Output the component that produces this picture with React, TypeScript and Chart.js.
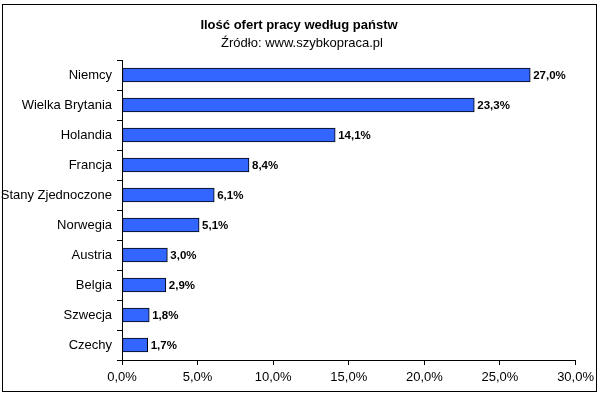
import React, { useEffect, useRef } from "react";
import { Chart, registerables } from "chart.js";

Chart.register(...registerables);

const TITLE = "Ilość ofert pracy według państw";
const SUBTITLE = "Źródło: www.szybkopraca.pl";
const countries = [
  "Niemcy",
  "Wielka Brytania",
  "Holandia",
  "Francja",
  "Stany Zjednoczone",
  "Norwegia",
  "Austria",
  "Belgia",
  "Szwecja",
  "Czechy",
];
const shares = [27.0, 23.3, 14.1, 8.4, 6.1, 5.1, 3.0, 2.9, 1.8, 1.7];
const xMin = 0;
const xMax = 30;
const xStep = 5;

const FONT = "Arial, 'Liberation Sans', sans-serif";
const fmt = (v: number) => `${v.toFixed(1).replace(".", ",")}%`;

const framePlugin = {
  id: "frame",
  beforeDraw(chart: any) {
    const ctx = chart.ctx;
    ctx.save();
    ctx.fillStyle = "#ffffff";
    ctx.fillRect(0, 0, chart.width, chart.height);
    ctx.strokeStyle = "#000000";
    ctx.lineWidth = 1;
    ctx.strokeRect(2.5, 4.5, 594, 387);
    ctx.fillStyle = "#000000";
    ctx.textAlign = "center";
    ctx.textBaseline = "middle";
    ctx.font = `bold 13px ${FONT}`;
    ctx.fillText(TITLE, 299, 25);
    ctx.font = `13px ${FONT}`;
    ctx.fillText(SUBTITLE, 302, 43);
    ctx.restore();
  },
};

const labelPlugin = {
  id: "barLabels",
  afterDatasetsDraw(chart: any) {
    const ctx = chart.ctx;
    const meta = chart.getDatasetMeta(0);
    ctx.save();
    ctx.fillStyle = "#000000";
    ctx.font = `bold 11.5px ${FONT}`;
    ctx.textAlign = "left";
    ctx.textBaseline = "middle";
    meta.data.forEach((bar: any, i: number) => {
      ctx.fillText(fmt(shares[i]), bar.x + 3, bar.y + 1);
    });
    ctx.restore();
  },
};

export default function App() {
  const ref = useRef<HTMLCanvasElement | null>(null);
  useEffect(() => {
    if (!ref.current) return;
    const chart = new Chart(ref.current, {
      type: "bar",
      data: {
        labels: countries,
        datasets: [
          {
            data: shares,
            backgroundColor: "#3366FF",
            borderColor: "#000000",
            borderWidth: 1,
            borderSkipped: false,
            barThickness: 14,
          },
        ],
      },
      options: {
        indexAxis: "y",
        responsive: false,
        animation: false,
        devicePixelRatio: 1,
        layout: { padding: { left: 0, right: 19, top: 60, bottom: 0 } },
        plugins: {
          legend: { display: false },
          tooltip: { enabled: false },
          title: { display: false },
        },
        scales: {
          x: {
            min: xMin,
            max: xMax,
            ticks: {
              stepSize: xStep,
              color: "#000000",
              font: { family: FONT, size: 13 },
              padding: 5,
              maxRotation: 0,
              callback: (v: any) => fmt(Number(v)),
            },
            grid: {
              drawOnChartArea: false,
              drawTicks: true,
              tickLength: 5,
              color: "#000000",
              lineWidth: 1,
            },
            border: { display: true, color: "#000000", width: 1 },
            afterFit: (s: any) => {
              s.height = 34;
            },
          },
          y: {
            ticks: {
              color: "#000000",
              font: { family: FONT, size: 13 },
              padding: 5,
            },
            grid: {
              offset: true,
              drawOnChartArea: false,
              drawTicks: true,
              tickLength: 5,
              color: "#000000",
              lineWidth: 1,
            },
            border: { display: true, color: "#000000", width: 1 },
            afterFit: (s: any) => {
              s.width = 122;
            },
          },
        },
      },
      plugins: [framePlugin, labelPlugin],
    } as any);
    return () => chart.destroy();
  }, []);
  return (
    <div style={{ position: "absolute", left: 0, top: 0, width: 599, height: 394 }}>
      <canvas ref={ref} width={599} height={394} style={{ display: "block" }} />
    </div>
  );
}
